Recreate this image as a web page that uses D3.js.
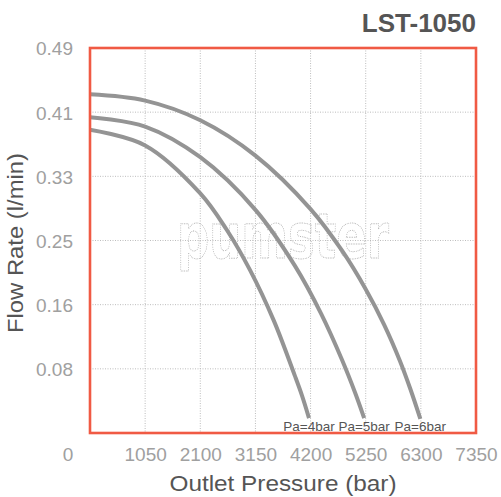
<!DOCTYPE html>
<html>
<head>
<meta charset="utf-8">
<script src="https://cdn.jsdelivr.net/npm/d3@7"></script>
<style>
  html, body { margin: 0; padding: 0; background: #fff; }
  svg { display: block; font-family: "Liberation Sans", Arial, sans-serif; }
</style>
</head>
<body>
<svg id="chart" width="501" height="497"></svg>
<script>
// ---- data ----
const chartTitle = "LST-1050";
const xTitle = "Outlet Pressure (bar)";
const yTitle = "Flow Rate (l/min)";
const xMax = 7350;
const yMax = 0.49;
const xTickValues = [1050, 2100, 3150, 4200, 5250, 6300, 7350];
const yTickLabels = ["0.08", "0.16", "0.25", "0.33", "0.41", "0.49"];
const seriesNames = ["Pa=4bar", "Pa=5bar", "Pa=6bar"];
const pa4 = [[0,0.386],[1050,0.366],[2100,0.305],[2600,0.259],[3050,0.207],[3500,0.143],[3900,0.073],[4040,0.047],[4170,0.019]];
const pa5 = [[0,0.402],[1050,0.390],[2100,0.351],[3150,0.284],[3900,0.213],[4400,0.152],[4800,0.093],[5050,0.051],[5220,0.019]];
const pa6 = [[0,0.431],[1050,0.423],[2100,0.398],[3150,0.353],[4200,0.285],[4800,0.232],[5250,0.183],[5600,0.138],[5900,0.092],[6100,0.056],[6290,0.018]];
const seriesData = [pa4, pa5, pa6];

// ---- layout ----
const svg = d3.select("#chart");
const L = 90, R = 476, T = 48, B = 433;
const x = d3.scaleLinear().domain([0, xMax]).range([L, R]);
const y = d3.scaleLinear().domain([0, yMax]).range([B, T]);
const yTickValues = yTickLabels.map((_, i) => yMax * (i + 1) / yTickLabels.length);

// grid
const grid = svg.append("g");
grid.selectAll("line.vx").data(xTickValues.slice(0, -1)).enter().append("line")
  .attr("x1", d => x(d)).attr("x2", d => x(d)).attr("y1", T).attr("y2", B)
  .attr("stroke", "#bdbdbd").attr("stroke-width", 1).attr("stroke-dasharray", "1,1.5");
grid.selectAll("line.hy").data(yTickValues.slice(0, -1)).enter().append("line")
  .attr("x1", L).attr("x2", R).attr("y1", d => y(d)).attr("y2", d => y(d))
  .attr("stroke", "#bdbdbd").attr("stroke-width", 1).attr("stroke-dasharray", "1,1.5");

// watermark
svg.append("text")
  .attr("x", 283).attr("y", 258)
  .attr("text-anchor", "middle")
  .attr("font-family", "'DejaVu Sans', sans-serif")
  .attr("font-weight", "bold")
  .attr("font-size", 62)
  .attr("textLength", 212).attr("lengthAdjust", "spacingAndGlyphs")
  .attr("fill", "none").attr("stroke", "#ababab").attr("stroke-width", 0.9)
  .attr("stroke-dasharray", "1,1.3")
  .text("pumster");

// axes (labels only)
const xAxis = d3.axisBottom(x).tickValues(xTickValues).tickSize(0).tickPadding(0).tickFormat(d3.format("d"));
const gx = svg.append("g").attr("transform", `translate(0,${B})`).call(xAxis);
gx.select(".domain").remove();
gx.selectAll("text").attr("y", 28).attr("dy", 0)
  .attr("font-family", "'Liberation Sans', Arial, sans-serif")
  .attr("font-size", 19).attr("fill", "#a0a0a0");

const yAxis = d3.axisLeft(y).tickValues(yTickValues).tickSize(0).tickPadding(0)
  .tickFormat((d, i) => yTickLabels[i]);
const gy = svg.append("g").attr("transform", `translate(${L - 17},0)`).call(yAxis);
gy.select(".domain").remove();
gy.selectAll("text").attr("x", 0).attr("dy", "0.36em")
  .attr("font-family", "'Liberation Sans', Arial, sans-serif")
  .attr("font-size", 19).attr("fill", "#a0a0a0");

// corner zero
svg.append("text").attr("x", 68).attr("y", 461).attr("text-anchor", "middle")
  .attr("font-size", 19).attr("fill", "#a0a0a0").text("0");

// curves
const line = d3.line().x(d => x(d[0])).y(d => y(d[1])).curve(d3.curveCatmullRom.alpha(0.5));
svg.append("g").selectAll("path").data(seriesData).enter().append("path")
  .attr("d", line)
  .attr("fill", "none").attr("stroke", "#949494").attr("stroke-width", 4);

// series labels
svg.append("g").selectAll("text").data(seriesData).enter().append("text")
  .attr("x", d => x(d[d.length - 1][0]))
  .attr("y", 431)
  .attr("text-anchor", "middle")
  .attr("font-size", 13.5).attr("fill", "#555")
  .text((d, i) => seriesNames[i]);

// plot border
svg.append("rect").attr("x", L).attr("y", T).attr("width", R - L).attr("height", B - T)
  .attr("fill", "none").attr("stroke", "#f05a44").attr("stroke-width", 2.6);

// titles
svg.append("text").attr("x", 476).attr("y", 32).attr("text-anchor", "end")
  .attr("font-size", 26).attr("font-weight", "bold").attr("fill", "#555").text(chartTitle);
svg.append("text").attr("x", 283).attr("y", 491).attr("text-anchor", "middle")
  .attr("font-size", 22).attr("fill", "#555")
  .attr("textLength", 227).attr("lengthAdjust", "spacingAndGlyphs").text(xTitle);
svg.append("text").attr("transform", "translate(23,243) rotate(-90)").attr("text-anchor", "middle")
  .attr("font-size", 22).attr("fill", "#555")
  .attr("textLength", 180).attr("lengthAdjust", "spacingAndGlyphs").text(yTitle);
</script>
</body>
</html>
